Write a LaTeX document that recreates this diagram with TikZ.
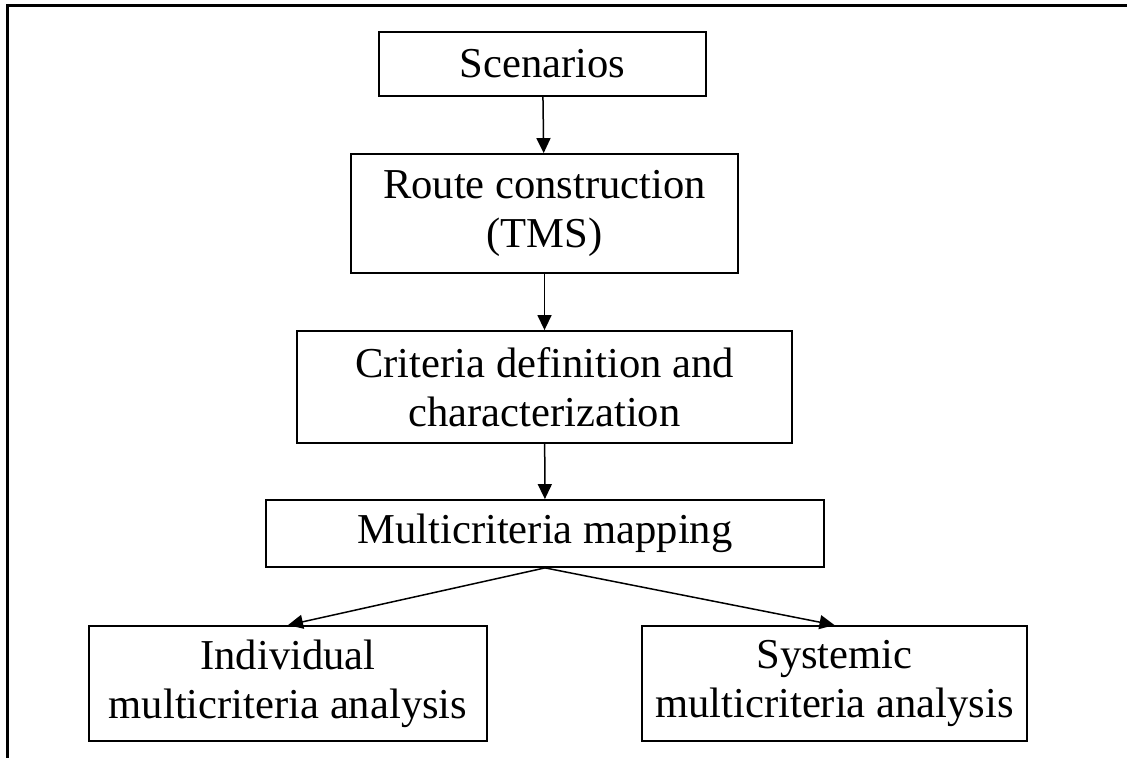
\documentclass[tikz,border=0pt]{standalone}
\usepackage{fontspec}
\setmainfont{Liberation Serif}
\usetikzlibrary{arrows.meta}

\begin{document}
\begin{tikzpicture}[x=0.5pt,y=0.5pt,
        >={Triangle[length=7.5pt,width=7pt]},
        box/.style={draw,line width=0.9pt,inner sep=0pt,align=center,
            font=\fontsize{21.3}{24.5}\selectfont},
        flow/.style={->,line width=0.75pt}]
                \useasboundingbox (0,0) rectangle (1127,758);
                \draw[line width=1.5pt] (7,0) |- (1127,752);

                \node[box,minimum width=163.5pt,minimum height=32pt] (scen) at (542.5,694) {Scenarios};
                \node[box,minimum width=193.5pt,minimum height=59.5pt] (route) at (544.5,544.5) {Route construction\\(TMS)};
                \node[box,minimum width=247.5pt,minimum height=56pt] (crit) at (544.5,371) {Criteria definition and\\characterization};
                \node[box,minimum width=279pt,minimum height=33.5pt] (map) at (545,224.5) {Multicriteria mapping};
                \node[box,minimum width=199pt,minimum height=57.5pt] (indiv) at (288,74.5) {Individual\\multicriteria analysis};
                \node[box,minimum width=192.5pt,minimum height=57.5pt] (sys) at (834.5,74.5) {Systemic\\multicriteria analysis};

                \draw[flow] (scen) to (route); \draw[flow] (route) to (crit);
                \draw[flow] (crit) to (map);
                \draw[flow] (map.south) to (indiv.north); \draw[flow] (map.south) to (sys.north);
            \end{tikzpicture}
\end{document}
